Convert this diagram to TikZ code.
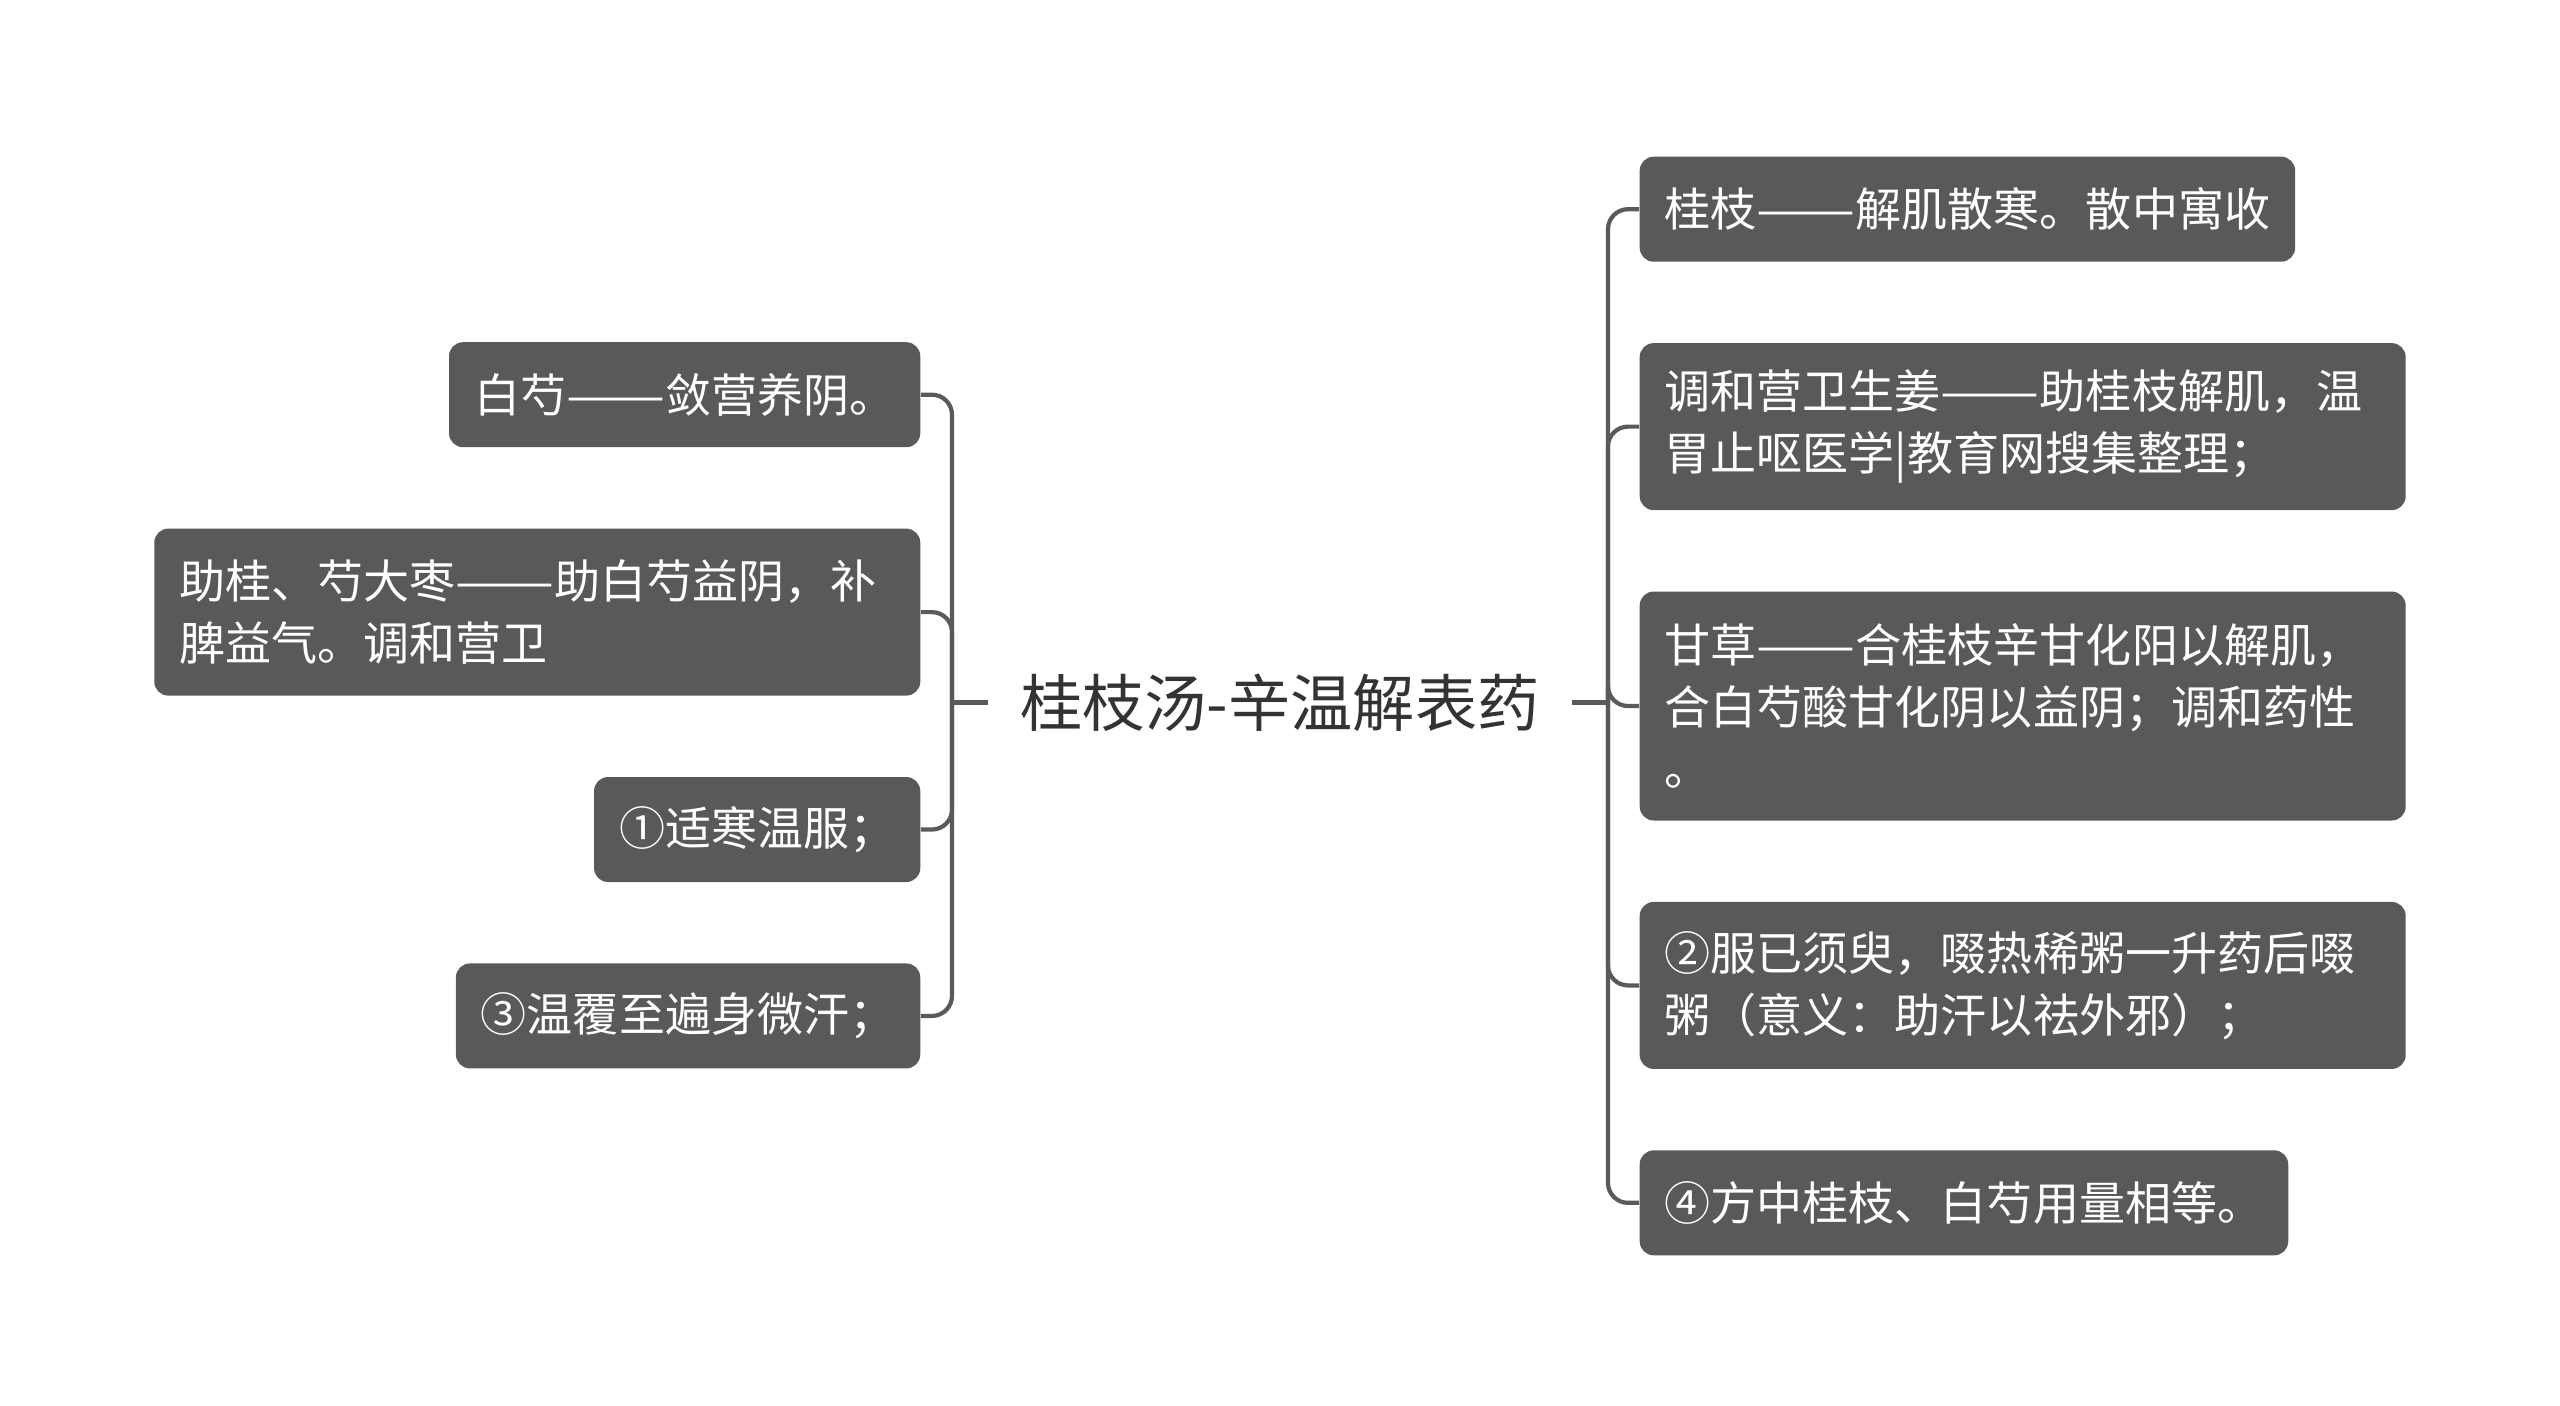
\documentclass[tikz,border=0pt]{standalone}
\usepackage{fontspec}
\usepackage{graphicx}
\setmainfont{Noto Sans CJK SC}
\usetikzlibrary{positioning}
\definecolor{boxgray}{HTML}{595959}
\definecolor{linegray}{HTML}{5A5A5A}
\definecolor{roottext}{HTML}{333333}
\newcommand\cjkdash{\resizebox{2.15em}{\height}{——}}
\tikzset{
  leaf/.style={fill=boxgray, text=white, rounded corners=0.14cm, inner xsep=0.25cm, inner ysep=0cm,
    minimum height=1.05cm, align=left, font=\fontsize{13.1pt}{17.6pt}\selectfont},
  wide/.style={leaf, text width=7.16cm},
  twoline/.style={minimum height=1.67cm},
  threeline/.style={minimum height=2.29cm},
  link/.style={draw=linegray, line width=1.2pt, rounded corners=0.2cm},
}

\begin{document}
\begin{tikzpicture}
            \useasboundingbox (-12.8,-7.025) rectangle (12.8,7.025);
            \node[text=roottext, inner xsep=0.32cm, font=\fontsize{17.7pt}{21pt}\selectfont] (root) at (0,0) {桂枝汤-辛温解表药};
            \coordinate (lfork) at (-3.28,0);
            \coordinate (rfork) at (3.28,0);

            \node[leaf, anchor=north east] (baishao) at (-3.59,3.61) {白芍\cjkdash 敛营养阴。};
            \node[wide, twoline, below=0.8cm of baishao.south east, anchor=north east] (dazao) {助桂、芍大枣\cjkdash 助白芍益阴，补\\脾益气。调和营卫};
            \node[leaf, below=0.8cm of dazao.south east, anchor=north east] (shihan) {①适寒温服；};
            \node[leaf, below=0.8cm of shihan.south east, anchor=north east] (wenfu) {③温覆至遍身微汗；};

            \node[leaf, anchor=north west] (guizhi) at (3.59,5.465) {桂枝\cjkdash 解肌散寒。散中寓收};
            \node[wide, twoline, below=0.8cm of guizhi.south west, anchor=north west] (shengjiang) {调和营卫生姜\cjkdash 助桂枝解肌，温\\胃止呕医学|教育网搜集整理；};
            \node[wide, threeline, below=0.8cm of shengjiang.south west, anchor=north west] (gancao) {甘草\cjkdash 合桂枝辛甘化阳以解肌，\\合白芍酸甘化阴以益阴；调和药性\\。};
            \node[wide, twoline, below=0.8cm of gancao.south west, anchor=north west] (chuozhou) {②服已须臾，啜热稀粥一升药后啜\\粥（意义：助汗以祛外邪）；};
            \node[leaf, below=0.8cm of chuozhou.south west, anchor=north west] (yongliang) {④方中桂枝、白芍用量相等。};

            \draw[link] (root.west) -- (lfork);
            \draw[link] (lfork) |- (baishao.east);
            \draw[link] (lfork) |- (dazao.east);
            \draw[link] (lfork) |- (shihan.east);
            \draw[link] (lfork) |- (wenfu.east);

            \draw[link] (root.east) -- (rfork);
            \draw[link] (rfork) |- (guizhi.west);
            \draw[link] (rfork) |- (shengjiang.west);
            \draw[link] (rfork) |- (gancao.west);
            \draw[link] (rfork) |- (chuozhou.west);
            \draw[link] (rfork) |- (yongliang.west);
        \end{tikzpicture}
\end{document}
